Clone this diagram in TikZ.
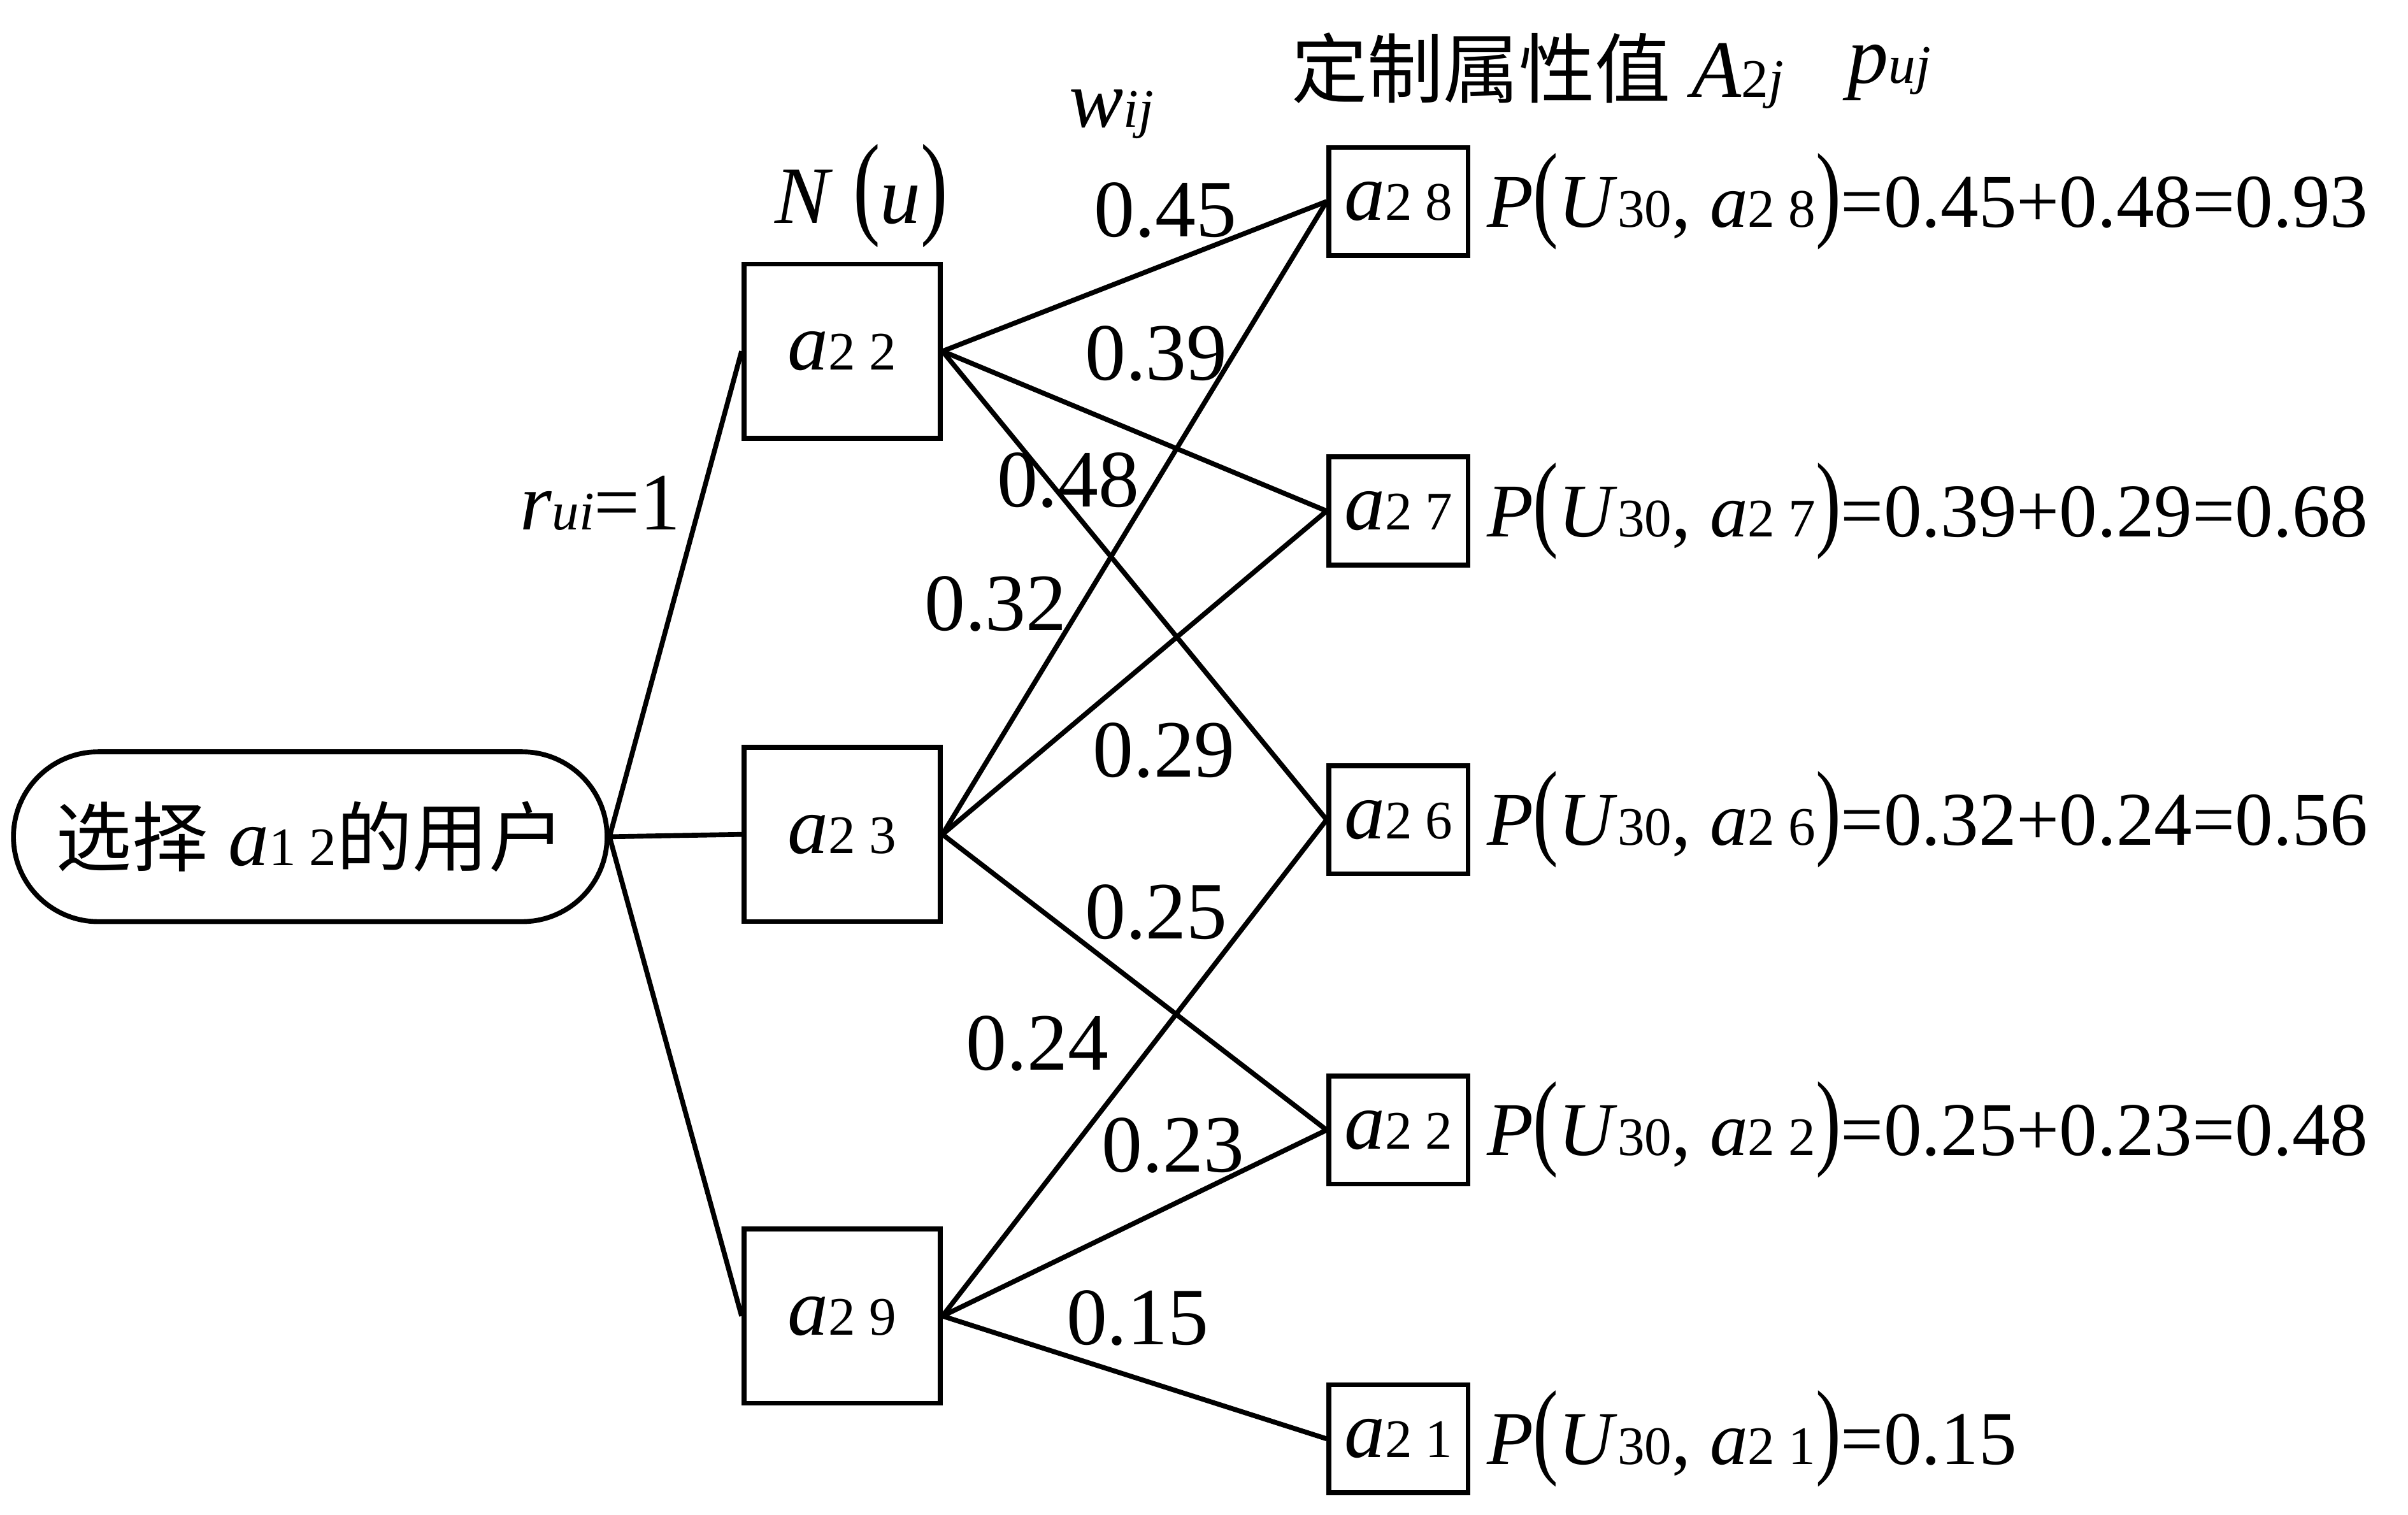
\documentclass[tikz,border=0pt]{standalone}
\usepackage{fontspec}
\setmainfont{Liberation Serif}
\newfontfamily\cjk{Noto Sans CJK SC}
\usetikzlibrary{positioning,shapes.misc}
\newcommand\lo[1]{{\fontsize{10}{10}\selectfont #1}}
\newcommand\zh[1]{{\cjk\fontsize{14}{14}\selectfont #1}}
\newcommand\tallparen[1]{\scalebox{1}[1.4]{#1}}

\begin{document}
\begin{tikzpicture}[
    every node/.style={font=\fontsize{15}{15}\selectfont},
    attribute/.style={draw, line width=0.9pt, minimum width=1.27cm, minimum height=1.13cm, inner sep=0pt},
    value/.style={draw, line width=0.9pt, minimum width=0.9cm, minimum height=0.7cm, inner sep=0pt},
    score/.style={right=0cm of #1, inner sep=0.1cm, font=\fontsize{14}{14}\selectfont},
    link/.style={line width=0.9pt}
]
    \useasboundingbox (0,0) rectangle (15.6,-9.81);

    \node[draw, line width=0.9pt, rounded rectangle, minimum width=4.08cm, minimum height=1.1cm]
        (user) at (2.01,-5.42) {\zh{选择} \textit{a}\lo{1 2}\zh{的用户}};

    \foreach \i/\y in {2/-2.275,3/-5.405,9/-8.525}
        \node[attribute] (neighbour \i) at (5.455,\y) {\textit{a}\lo{2 \i}};

    \foreach \j/\y in {8/-1.305,7/-3.31,6/-5.31,2/-7.32,1/-9.32}
        \node[value] (value \j) at (9.06,\y) {\textit{a}\lo{2 \j}};

    \foreach \i in {2,3,9}
        \draw[link] (user.east) -- (neighbour \i.west);

    \foreach \i/\j/\w/\pos in {2/8/0.45/{7.55,-1.36}, 2/7/0.39/{7.49,-2.29}, 2/6/0.48/{6.92,-3.11},
                               3/8/0.32/{6.45,-3.91}, 3/7/0.29/{7.54,-4.86}, 3/2/0.25/{7.49,-5.91},
                               9/6/0.24/{6.72,-6.76}, 9/2/0.23/{7.60,-7.42}, 9/1/0.15/{7.37,-8.54}}
    {
        \draw[link] (neighbour \i.east) -- (value \j.west);
        \node (weight \i \j) at (\pos) {\w};
    }

    \node[score=value 8] (score 8) {\textit{P}\tallparen{(}\textit{U}\lo{30}, \textit{a}\lo{2 8}\tallparen{)}=0.45+0.48=0.93};
    \node[score=value 7] (score 7) {\textit{P}\tallparen{(}\textit{U}\lo{30}, \textit{a}\lo{2 7}\tallparen{)}=0.39+0.29=0.68};
    \node[score=value 6] (score 6) {\textit{P}\tallparen{(}\textit{U}\lo{30}, \textit{a}\lo{2 6}\tallparen{)}=0.32+0.24=0.56};
    \node[score=value 2] (score 2) {\textit{P}\tallparen{(}\textit{U}\lo{30}, \textit{a}\lo{2 2}\tallparen{)}=0.25+0.23=0.48};
    \node[score=value 1] (score 1) {\textit{P}\tallparen{(}\textit{U}\lo{30}, \textit{a}\lo{2 1}\tallparen{)}=0.15};

    \node (neighbour label) at (5.58,-1.27) {\textit{N} \tallparen{(}\textit{u}\tallparen{)}};
    \node (weight label) at (7.2,-0.74) {\textit{w}\lo{\textit{ij}}};
    \node (value label) at (9.96,-0.46) {\zh{定制属性值} \textit{A}\lo{2\textit{j}}};
    \node (score label) at (12.24,-0.47) {\textit{p}\lo{\textit{uj}}};
    \node (rating label) at (3.89,-3.26) {\textit{r}\lo{\textit{ui}}=1};
\end{tikzpicture}
\end{document}
